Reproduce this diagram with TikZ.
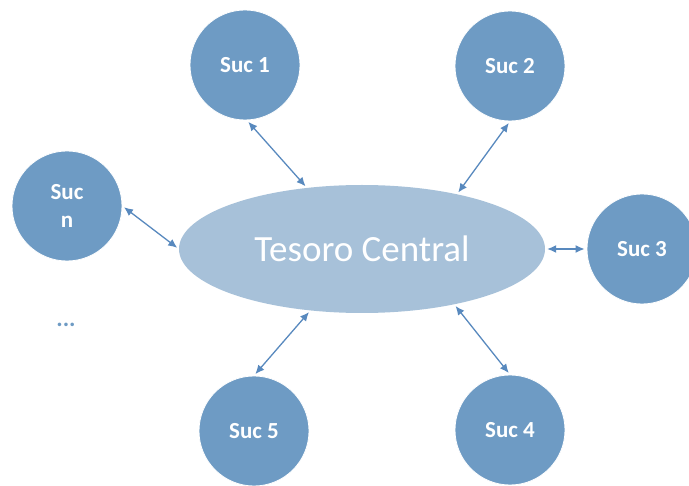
\documentclass[tikz,border=0pt]{standalone}
\usepackage{fontspec}
\setmainfont{Carlito}
\usetikzlibrary{shapes.geometric,arrows.meta}

\definecolor{sucblue}{RGB}{110,155,196}
\definecolor{centralblue}{RGB}{167,193,217}
\definecolor{arrowblue}{RGB}{88,137,190}

\tikzstyle{suc} = [circle,fill=sucblue,draw=white,line width=0.8pt,minimum size=110pt,inner sep=0pt,text=white,font=\fontsize{23}{28}\selectfont\bfseries,align=center]
\tikzstyle{central} = [ellipse,fill=centralblue,minimum width=366pt,minimum height=128pt,inner sep=0pt,text=white,font=\fontsize{37}{40}\selectfont]
\tikzstyle{link} = [{Latex[length=9pt,width=8pt]}-{Latex[length=9pt,width=8pt]},arrowblue,line width=1.3pt,shorten <=2pt,shorten >=2pt]

\begin{document}
\begin{tikzpicture}[x=1pt,y=-1pt]
		\useasboundingbox (0,0) rectangle (689,486);
		\node[central] (tc) at (362,249) {Tesoro Central};
		\node[suc] (s1) at (245,65) {Suc 1};
		\node[suc] (s2) at (510,66) {Suc 2};
		\node[suc] (s3) at (642,249) {Suc 3};
		\node[suc] (s4) at (510,430) {Suc 4};
		\node[suc] (s5) at (254,431) {Suc 5};
		\node[suc] (sn) at (67,206) {Suc\\n};
		\node[text=sucblue,font=\fontsize{24}{28}\selectfont\bfseries] (dots) at (66,325) {...};
		\draw[link] (s1.-88) -- (tc.132);
		\draw[link] (s2.-90) -- (tc.30);
		\draw[link] (sn.east) -- (tc.west);
		\draw[link] (tc.east) -- (s3.west);
		\draw[link] (tc.-130) -- (s5.north);
		\draw[link] (tc.-31) -- (s4.north);
		\end{tikzpicture}
\end{document}
